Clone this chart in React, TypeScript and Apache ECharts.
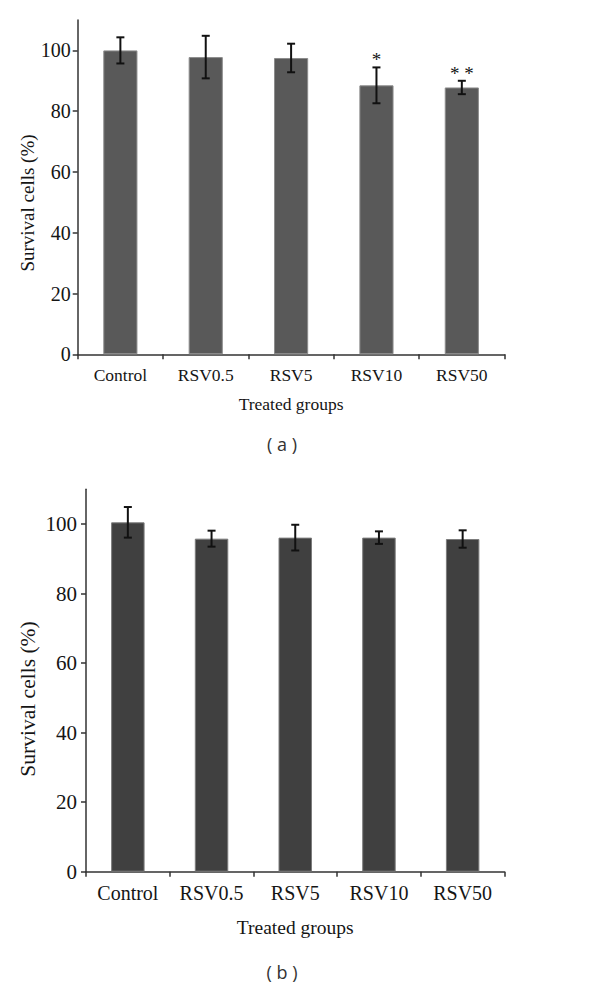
import React, { useEffect, useRef } from "react";
import * as echarts from "echarts";

const categories = ["Control", "RSV0.5", "RSV5", "RSV10", "RSV50"];
const meansA = [100, 97.8, 97.5, 88.5, 87.8];
const errsA = [4.3, 7.0, 4.7, 5.9, 2.2];
const sigA = ["", "", "", "*", "* *"];
const meansB = [100.5, 95.8, 96.1, 96.1, 95.7];
const errsB = [4.4, 2.3, 3.7, 1.8, 2.5];
const sigB = ["", "", "", "", ""];
const yTicks = [0, 20, 40, 60, 80, 100];
const yMax = 110;
const xName = "Treated groups";
const yName = "Survival cells (%)";

const SERIF = "'Liberation Serif', 'Times New Roman', serif";
const TXT = "#151515";

function errorSeries(means: number[], errs: number[], sig: string[], idx: number) {
  return {
    type: "custom",
    xAxisIndex: idx,
    yAxisIndex: idx,
    z: 10,
    data: means.map((m, i) => [i, m, errs[i]]),
    renderItem: (params: any, api: any) => {
      const i = api.value(0);
      const m = api.value(1);
      const e = api.value(2);
      const top = api.coord([i, m + e]);
      const bot = api.coord([i, m - e]);
      const hw = 4;
      const st = { stroke: "#111", lineWidth: 2 };
      const children: any[] = [
        { type: "line", shape: { x1: top[0], y1: top[1], x2: bot[0], y2: bot[1] }, style: st },
        { type: "line", shape: { x1: top[0] - hw, y1: top[1], x2: top[0] + hw, y2: top[1] }, style: st },
        { type: "line", shape: { x1: bot[0] - hw, y1: bot[1], x2: bot[0] + hw, y2: bot[1] }, style: st },
      ];
      const s = sig[params.dataIndex];
      if (s) {
        children.push({
          type: "text",
          style: {
            text: s,
            x: top[0],
            y: top[1] + 2,
            align: "center",
            verticalAlign: "bottom",
            font: `19px ${SERIF}`,
            fill: TXT,
          },
        });
      }
      return { type: "group", children };
    },
  };
}

function axes(idx: number, tickFont: number, catFont: number, nameFont: number, xNameGap: number, yMargin: number, xMargin: number) {
  const x = {
    type: "category",
    gridIndex: idx,
    data: categories,
    axisLine: { lineStyle: { color: "#333", width: 1.5 } },
    axisTick: { show: true, length: 5, lineStyle: { color: "#333", width: 1.5 } },
    axisLabel: { color: TXT, fontFamily: SERIF, fontSize: catFont, margin: xMargin },
    name: xName,
    nameLocation: "middle",
    nameGap: xNameGap,
    nameTextStyle: { color: TXT, fontFamily: SERIF, fontSize: nameFont },
  };
  const y = {
    type: "value",
    gridIndex: idx,
    min: 0,
    max: yMax,
    interval: 20,
    splitLine: { show: false },
    axisLine: { show: true, lineStyle: { color: "#333", width: 1.5 } },
    axisTick: { show: true, length: 5, customValues: yTicks, lineStyle: { color: "#333", width: 1.5 } },
    axisLabel: { color: TXT, fontFamily: SERIF, fontSize: tickFont, margin: yMargin, customValues: yTicks },
  };
  return { x, y };
}

export default function App() {
  const ref = useRef<HTMLDivElement>(null);
  useEffect(() => {
    if (!ref.current) return;
    const chart = echarts.init(ref.current, undefined, { renderer: "svg" });
    const a = axes(0, 20, 17.5, 17.5, 41, 7, 12);
    const b = axes(1, 21, 20, 19.5, 46, 9, 11);
    chart.setOption({
      animation: false,
      backgroundColor: "#fff",
      grid: [
        { left: 77.7, top: 20, right: 95.5, bottom: 639.7, containLabel: false, outerBoundsMode: "none" },
        { left: 86, top: 489.3, right: 95.5, bottom: 122.3, containLabel: false, outerBoundsMode: "none" },
      ],
      xAxis: [a.x, b.x],
      yAxis: [a.y, b.y],
      graphic: [
        { type: "text", x: 27.5, y: 203, rotation: Math.PI / 2, style: { text: yName, align: "center", verticalAlign: "middle", font: `19px ${SERIF}`, fill: TXT } },
        { type: "text", x: 28, y: 699, rotation: Math.PI / 2, style: { text: yName, align: "center", verticalAlign: "middle", font: `21.5px ${SERIF}`, fill: TXT } },
        { type: "text", x: 282, y: 444, style: { text: "( a )", align: "center", verticalAlign: "middle", font: "18px 'Open Sans', sans-serif", fill: "#333" } },
        { type: "text", x: 282, y: 972, style: { text: "( b )", align: "center", verticalAlign: "middle", font: "18px 'Open Sans', sans-serif", fill: "#333" } },
      ],
      series: [
        {
          type: "bar",
          xAxisIndex: 0,
          yAxisIndex: 0,
          data: meansA,
          barWidth: "40%",
          itemStyle: { color: "#595959", borderColor: "#8c8c8c", borderWidth: 1 },
        },
        errorSeries(meansA, errsA, sigA, 0),
        {
          type: "bar",
          xAxisIndex: 1,
          yAxisIndex: 1,
          data: meansB,
          barWidth: "40%",
          itemStyle: { color: "#404040", borderColor: "#7c7c7c", borderWidth: 1 },
        },
        errorSeries(meansB, errsB, sigB, 1),
      ],
    });
    return () => chart.dispose();
  }, []);
  return (
    <div
      ref={ref}
      style={{ position: "fixed", left: 0, top: 0, width: 600, height: 994, background: "#fff" }}
    />
  );
}
